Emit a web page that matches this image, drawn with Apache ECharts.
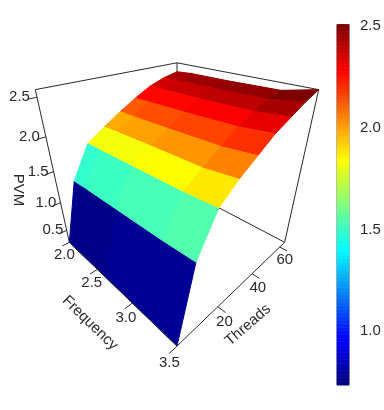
<!DOCTYPE html>
<html lang="en">
<head>
<meta charset="UTF-8">
<title>PVM surface</title>
<script src="https://cdn.jsdelivr.net/npm/echarts@6/dist/echarts.min.js"></script>
<style>
    html, body { margin: 0; background: #fff; }
    #main { width: 384px; height: 410px; }
</style>
</head>
<body>
<div id="main"></div>
<script>
// data
var frequencies = [2.0, 2.2, 2.65, 3.2, 3.5];
var threads = [1, 8, 16, 24, 32, 40, 48, 56, 64];
// one row per thread count, one column per frequency
var pvm = [
    [0.264, 0.264, 0.264, 0.264, 0.264],
    [1.247, 1.26, 1.275, 1.295, 1.32],
    [1.729, 1.735, 1.75, 1.77, 1.80],
    [1.898, 1.91, 1.93, 1.945, 1.997],
    [2.055, 2.06, 2.075, 2.10, 2.148],
    [2.195, 2.205, 2.22, 2.25, 2.30],
    [2.32, 2.325, 2.335, 2.36, 2.404],
    [2.40, 2.41, 2.42, 2.44, 2.508],
    [2.45, 2.47, 2.475, 2.495, 2.59]
];
var frequencyTicks = [2.0, 2.5, 3.0, 3.5];
var threadTicks = [20, 40, 60];
var pvmTicks = [0.5, 1.0, 1.5, 2.0, 2.5];
var colorbarTicks = [1.0, 1.5, 2.0, 2.5];
var colorbarRange = [0.735, 2.507];
var jetStops = ['#00007F', '#0000FF', '#007FFF', '#00FFFF', '#7FFF7F', '#FFFF00', '#FF7F00', '#FF0000', '#7F0000'];
var colorLevels = 100;

// limits of the box
var fLim = [2.0, 3.5], tLim = [1, 64], zLim = [0.264, 2.59];

// camera, same idea as persp()
var theta = 45 * Math.PI / 180, phi = 30 * Math.PI / 180, dist = 3.66;
var scale = 86.5, cx = 177, cy = 176.4;

var FONT = 'Liberation Sans';
var INK = '#2a2a2a';

function norm(val, lim) { return 2 * (val - lim[0]) / (lim[1] - lim[0]) - 1; }

// u, v, w are box coords in -1..1
function project(u, v, w) {
    var X = u * Math.cos(theta) + v * Math.sin(theta);
    var q = u * Math.sin(theta) - v * Math.cos(theta);
    var Y = -q * Math.sin(phi) + w * Math.cos(phi);
    var Z = q * Math.cos(phi) + w * Math.sin(phi);
    var p = 1 / (1 - Z / dist);
    return { x: X * p, y: Y * p, depth: Z };
}

function hexToRgb(h) {
    return [parseInt(h.substr(1, 2), 16), parseInt(h.substr(3, 2), 16), parseInt(h.substr(5, 2), 16)];
}

var palette = [];
for (var i = 0; i < colorLevels; i++) {
    var pos = i / (colorLevels - 1) * (jetStops.length - 1);
    var k = Math.min(Math.floor(pos), jetStops.length - 2);
    var a = hexToRgb(jetStops[k]), b = hexToRgb(jetStops[k + 1]), m = pos - k;
    palette.push('rgb(' + Math.round(a[0] + (b[0] - a[0]) * m) + ',' + Math.round(a[1] + (b[1] - a[1]) * m) + ',' + Math.round(a[2] + (b[2] - a[2]) * m) + ')');
}

function colorOf(val) {
    var r = (val - colorbarRange[0]) / (colorbarRange[1] - colorbarRange[0]);
    var idx = Math.floor(r * colorLevels);
    return palette[Math.max(0, Math.min(colorLevels - 1, idx))];
}

// surface facets, coloured by the mean of the four corners
var facets = [];
threads.slice(1).forEach(function (t, r) {
    frequencies.slice(1).forEach(function (f, c) {
        var corners = [[r, c], [r, c + 1], [r + 1, c + 1], [r + 1, c]];
        var sum = 0, depth = 0, pts = [];
        corners.forEach(function (rc) {
            var z = pvm[rc[0]][rc[1]];
            var pt = project(norm(frequencies[rc[1]], fLim), norm(threads[rc[0]], tLim), norm(z, zLim));
            sum += z;
            depth += pt.depth;
            pts.push([pt.x, pt.y]);
        });
        facets.push({ pts: pts, color: colorOf(sum / 4), depth: depth });
    });
});
facets.sort(function (p, q) { return p.depth - q.depth; });

// box edges
function seg(a, b) {
    var p0 = project(a[0], a[1], a[2]), p1 = project(b[0], b[1], b[2]);
    return [p0.x, p0.y, p1.x, p1.y];
}
var backEdges = [
    seg([-1, -1, -1], [-1, -1, 1]),
    seg([-1, -1, 1], [-1, 1, 1]),
    seg([-1, 1, 1], [1, 1, 1]),
    seg([1, 1, 1], [1, 1, -1]),
    seg([-1, 1, 1], [-1, 1, -1]),
    seg([-1, 1, -1], [1, 1, -1]),
    seg([-1, 1, -1], [-1, -1, -1])
];
var frontEdges = [
    seg([-1, -1, -1], [1, -1, -1]),
    seg([1, -1, -1], [1, 1, -1])
];

// ticks and tick labels
var TICK = 0.1;
var labels = [];
frequencyTicks.forEach(function (f) {
    var u = norm(f, fLim);
    frontEdges.push(seg([u, -1, -1], [u, -1 - TICK, -1]));
    var p = project(u, -1.1, -1.15);
    labels.push([p.x, p.y, f.toFixed(1)]);
});
threadTicks.forEach(function (t) {
    var v = norm(t, tLim);
    frontEdges.push(seg([1, v, -1], [1 + TICK, v, -1]));
    var p = project(1.1, v, -1.15);
    labels.push([p.x, p.y, String(t)]);
});
pvmTicks.forEach(function (z) {
    var w = norm(z, zLim);
    frontEdges.push(seg([-1, -1, w], [-1, -1 - TICK, w]));
    var p = project(-1.125, -1.125, w);
    labels.push([p.x, p.y, z.toFixed(1)]);
});

var strips = palette.map(function (c, i) {
    var step = (colorbarRange[1] - colorbarRange[0]) / colorLevels;
    return [colorbarRange[0] + i * step, colorbarRange[0] + (i + 1) * step, c];
});

function renderFacet(params, api) {
    var f = facets[params.dataIndex];
    return {
        type: 'polygon',
        shape: { points: f.pts.map(function (p) { return api.coord(p); }) },
        style: { fill: f.color, stroke: f.color, lineWidth: 1 }
    };
}

function renderEdge(params, api) {
    var a = api.coord([api.value(0), api.value(1)]);
    var b = api.coord([api.value(2), api.value(3)]);
    return {
        type: 'line',
        shape: { x1: a[0], y1: a[1], x2: b[0], y2: b[1] },
        style: { stroke: INK, lineWidth: 1, fill: null }
    };
}

function renderLabel(params, api) {
    var a = api.coord([api.value(0), api.value(1)]);
    return {
        type: 'text',
        x: a[0],
        y: a[1],
        style: {
            text: labels[params.dataIndex][2],
            fontFamily: FONT,
            fontSize: 15,
            fill: INK,
            align: 'center',
            verticalAlign: 'middle'
        }
    };
}

function renderStrip(params, api) {
    var a = api.coord([0, api.value(0)]);
    var b = api.coord([1, api.value(1)]);
    var c = strips[params.dataIndex][2];
    return {
        type: 'rect',
        shape: { x: a[0], y: b[1], width: b[0] - a[0], height: a[1] - b[1] },
        style: { fill: c, stroke: c, lineWidth: 0.6 }
    };
}

function axisTitle(text, x, y, angle) {
    return {
        type: 'text',
        x: x,
        y: y,
        rotation: angle * Math.PI / 180,
        style: {
            text: text,
            fontFamily: FONT,
            fontSize: 15,
            fill: INK,
            align: 'center',
            verticalAlign: 'middle'
        }
    };
}

var chart = echarts.init(document.getElementById('main'), null, { renderer: 'canvas' });
chart.setOption({
    animation: false,
    backgroundColor: '#fff',
    grid: [
        { left: 0, top: 0, width: 384, height: 410 },
        { left: 337, top: 24.5, width: 12, height: 360.5, show: true, borderColor: '#666', borderWidth: 1, backgroundColor: 'transparent' }
    ],
    xAxis: [
        { gridIndex: 0, type: 'value', show: false, min: -cx / scale, max: (384 - cx) / scale },
        { gridIndex: 1, type: 'value', show: false, min: 0, max: 1 }
    ],
    yAxis: [
        { gridIndex: 0, type: 'value', show: false, min: -(410 - cy) / scale, max: cy / scale },
        {
            gridIndex: 1,
            type: 'value',
            position: 'right',
            min: colorbarRange[0],
            max: colorbarRange[1],
            splitLine: { show: false },
            axisLine: { show: false },
            axisTick: { show: true, length: 5, customValues: colorbarTicks, lineStyle: { color: INK, width: 1 } },
            axisLabel: {
                show: true,
                customValues: colorbarTicks,
                margin: 11,
                fontFamily: FONT,
                fontSize: 15,
                color: INK,
                formatter: function (v) { return v.toFixed(1); }
            }
        }
    ],
    graphic: [
        axisTitle('PVM', 18, 190, -90),
        axisTitle('Frequency', 90, 323, -44),
        axisTitle('Threads', 248, 325, 41)
    ],
    series: [
        {
            type: 'custom', xAxisIndex: 0, yAxisIndex: 0, z: 1, silent: true, clip: false,
            data: backEdges, renderItem: renderEdge,
            encode: { x: [0, 2], y: [1, 3] }
        },
        {
            type: 'custom', xAxisIndex: 0, yAxisIndex: 0, z: 2, silent: true, clip: false,
            data: facets.map(function (f) { return [f.pts[0][0], f.pts[0][1]]; }),
            renderItem: renderFacet
        },
        {
            type: 'custom', xAxisIndex: 0, yAxisIndex: 0, z: 3, silent: true, clip: false,
            data: frontEdges, renderItem: renderEdge,
            encode: { x: [0, 2], y: [1, 3] }
        },
        {
            type: 'custom', xAxisIndex: 0, yAxisIndex: 0, z: 4, silent: true, clip: false,
            data: labels.map(function (l) { return [l[0], l[1]]; }),
            renderItem: renderLabel
        },
        {
            type: 'custom', xAxisIndex: 1, yAxisIndex: 1, z: 2, silent: true, clip: false,
            data: strips.map(function (s) { return [s[0], s[1]]; }),
            renderItem: renderStrip,
            encode: { y: [0, 1] }
        }
    ]
});
</script>
</body>
</html>
